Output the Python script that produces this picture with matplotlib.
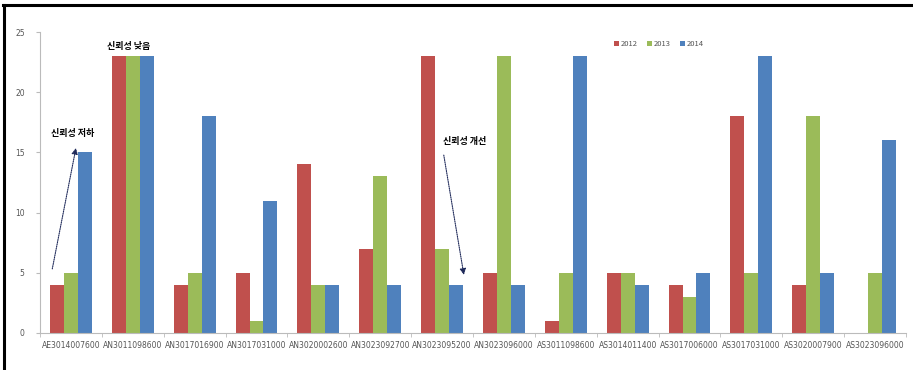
import numpy as np
import matplotlib.pyplot as plt
from matplotlib.lines import Line2D

plt.rcParams['font.family'] = ['Noto Sans CJK KR', 'DejaVu Sans']

stations = ['AE3014007600', 'AN3011098600', 'AN3017016900', 'AN3017031000',
            'AN3020002600', 'AN3023092700', 'AN3023095200', 'AN3023096000',
            'AS3011098600', 'AS3014011400', 'AS3017006000', 'AS3017031000',
            'AS3020007900', 'AS3023096000']
years = ['2012', '2013', '2014']
v2012 = [4, 23, 4, 5, 14, 7, 23, 5, 1, 5, 4, 18, 4, 0]
v2013 = [5, 23, 5, 1, 4, 13, 7, 23, 5, 5, 3, 5, 18, 5]
v2014 = [15, 23, 18, 11, 4, 4, 4, 4, 23, 4, 5, 23, 5, 16]
colors = ['#C0504D', '#9BBB59', '#4F81BD']

fig = plt.figure(figsize=(9.13, 3.70), dpi=100)
ax = fig.add_axes([40 / 913, 37 / 370, 866 / 913, 301 / 370])

x = np.arange(len(stations))
w = 0.225
for k, (vals, lab, col) in enumerate(zip([v2012, v2013, v2014], years, colors)):
    ax.bar(x + (k - 1) * w, vals, width=w, color=col, label=lab, zorder=2)

ax.set_xlim(-0.5, 13.33)
ax.set_ylim(0, 25)
ax.set_yticks([0, 5, 10, 15, 20, 25])
ax.set_xticks(x)
ax.set_xticklabels(stations)
ax.set_xticks(np.arange(-0.5, 14, 1), minor=True)

for s in ['top', 'right']:
    ax.spines[s].set_visible(False)
for s in ['left', 'bottom']:
    ax.spines[s].set_color('#BBBBBB')
    ax.spines[s].set_linewidth(0.8)
ax.tick_params(axis='y', length=3, color='#BBBBBB', labelsize=5.5,
               labelcolor='#555555', pad=8)
ax.tick_params(axis='x', which='major', length=0, labelsize=5.5,
               labelcolor='#555555', pad=6)
ax.tick_params(axis='x', which='minor', length=3, color='#BBBBBB')
for t in ax.get_xticklabels() + ax.get_yticklabels():
    t.set_family('DejaVu Sans')

ax.legend(loc='upper left', bbox_to_anchor=(0.655, 0.995), ncol=3, frameon=False,
          fontsize=5.5, handlelength=0.6, handleheight=0.6, handletextpad=0.3,
          columnspacing=1.2, labelcolor='#555555')

# notes on the reliability of each station
ax.text(0.93, 23.8, '신뢰성 낮음', ha='center', va='center', fontsize=6.5,
        fontweight='bold')
ax.text(0.03, 16.6, '신뢰성 저하', ha='center', va='center', fontsize=6.5,
        fontweight='bold')
ax.text(6.36, 15.9, '신뢰성 개선', ha='center', va='center', fontsize=6.5,
        fontweight='bold')
arrow = dict(arrowstyle='-|>', color='#1F2A5A', lw=0.8, linestyle=(0, (1, 1)),
             mutation_scale=9)
ax.annotate('', xy=(0.09, 15.6), xytext=(-0.31, 5.1), arrowprops=arrow)
ax.annotate('', xy=(6.36, 4.6), xytext=(6.02, 15.0), arrowprops=arrow)

# frame around the figure
fig.add_artist(Line2D([3.5 / 913, 3.5 / 913], [0, 365.5 / 370],
                      color='black', lw=2.2, transform=fig.transFigure))
fig.add_artist(Line2D([2.5 / 913, 1], [365 / 370, 365 / 370],
                      color='black', lw=2.2, transform=fig.transFigure))

fig.savefig('out.png', dpi=100)
